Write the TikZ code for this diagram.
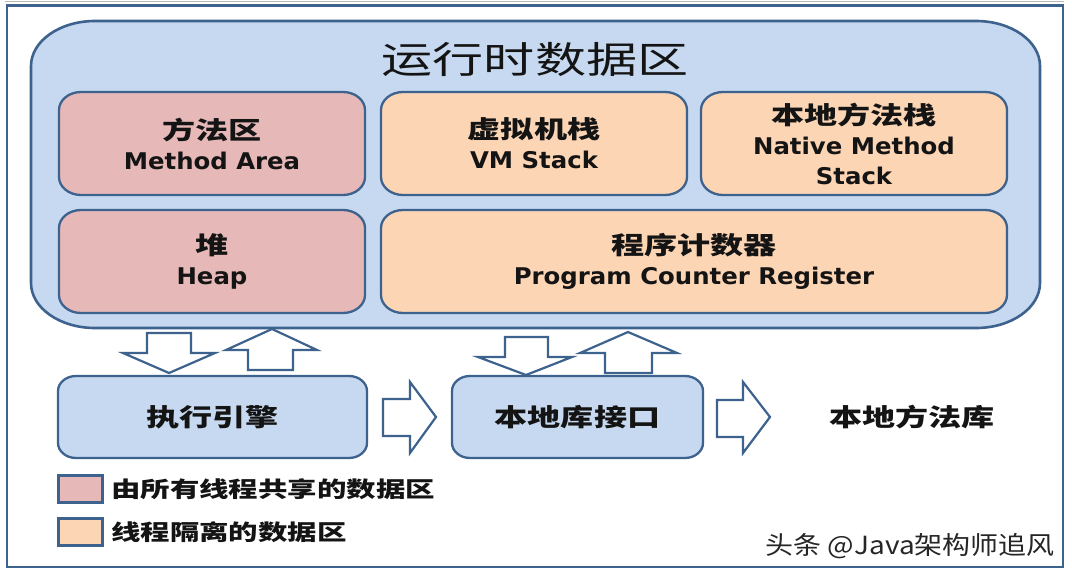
\documentclass[tikz,border=0pt]{standalone}
\usepackage{fontspec}
\newfontfamily\cjk{Noto Sans CJK SC}[FakeStretch=1.35]
\newfontfamily\cjkt{Noto Sans CJK SC}[FakeStretch=1.38]
\newfontfamily\cjkw{Noto Sans CJK SC}[FakeStretch=1.12]
\newfontfamily\en{DejaVu Sans}[FakeStretch=1.06]
\definecolor{framec}{RGB}{62,98,142}
\definecolor{rtfill}{RGB}{198,217,240}
\definecolor{pinkf}{RGB}{230,185,184}
\definecolor{peachf}{RGB}{252,213,181}
\definecolor{ink}{RGB}{20,20,20}
\newcommand\zh[1]{{\fontsize{24.5}{30}\selectfont\cjk\bfseries #1}}
\newcommand\lat[1]{{\fontsize{23}{30}\selectfont\en\bfseries #1}}
\newcommand\ebox[9]{%
  \pgfmathsetmacro\eax{#2+#6}%
  \pgfmathsetmacro\ebx{#4-#6}%
  \pgfmathsetmacro\ecx{#2+0.4477*#6}%
  \pgfmathsetmacro\edx{#4-0.4477*#6}%
  \pgfmathsetmacro\eay{#3+#7}%
  \pgfmathsetmacro\eby{#5-#7}%
  \pgfmathsetmacro\ecy{#3+0.4477*#7}%
  \pgfmathsetmacro\edy{#5-0.4477*#7}%
  \pgfmathsetmacro\emx{(#2+#4)/2}%
  \pgfmathsetmacro\emy{(#3+#5)/2}%
  \path[#8] (\eax,#3) -- (\ebx,#3) .. controls (\edx,#3) and (#4,\ecy) .. (#4,\eay) -- (#4,\eby) .. controls (#4,\edy) and (\edx,#5) .. (\ebx,#5) -- (\eax,#5) .. controls (\ecx,#5) and (#2,\edy) .. (#2,\eby) -- (#2,\eay) .. controls (#2,\ecy) and (\ecx,#3) .. (\eax,#3) -- cycle;
  \node[boxtext] (#1) at (\emx,\emy) {#9};
}
\begin{document}
\begin{tikzpicture}[x=1pt,y=-1pt,
  inbox/.style={draw=framec,line width=2.3pt},
  bigbox/.style={draw=framec,fill=rtfill,line width=2.6pt},
  boxtext/.style={align=center,inner sep=0pt,text=ink,font=\fontsize{23}{30}\selectfont},
  blockarrow/.style={draw=framec,fill=white,line width=2.2pt,line join=miter},
  legsq/.style={draw=framec,line width=2.6pt,inner sep=0pt,minimum width=44,minimum height=27},
  legtext/.style={anchor=west,inner sep=0pt,text=ink,font=\fontsize{21.8}{24}\selectfont\cjk\bfseries}]
\useasboundingbox (0,0) rectangle (1072,573);
\fill[white] (0,0) rectangle (1072,573);
% outer frame
\draw[gray!55,line width=0.8pt] (5,1.6) -- (1064,1.6);
\draw[framec,line width=2.8pt] (7,5.5) rectangle (1063,567);
% runtime data area
\ebox{rt}{31}{21}{1040}{328}{64}{45}{bigbox}{}
\node[inner sep=0pt,text=ink,font=\fontsize{37}{40}\selectfont\cjkt] (title) at (535,59) {运行时数据区};
% inner areas
\ebox{ma}{59}{92}{365}{195}{22}{18}{inbox,fill=pinkf}{\zh{方法区}\\\lat{Method Area}}
\ebox{vms}{381}{92}{687}{195}{22}{18}{inbox,fill=peachf}{\zh{虚拟机栈}\\\lat{VM Stack}}
\ebox{nms}{701}{92}{1007}{195}{22}{18}{inbox,fill=peachf}{\zh{本地方法栈}\\\lat{Native Method}\\\lat{Stack}}
\ebox{heap}{59}{210}{365}{313}{22}{18}{inbox,fill=pinkf}{\zh{堆}\\\lat{Heap}}
\ebox{pc}{381}{210}{1007}{313}{22}{18}{inbox,fill=peachf}{\zh{程序计数器}\\\lat{Program Counter Register}}
% vertical block arrows
\draw[blockarrow] (147,333) -- (191,333) -- (191,353) -- (215,353) -- (169,373) -- (123,353) -- (147,353) -- cycle;
\draw[blockarrow] (248,370) -- (293,370) -- (293,350) -- (317,350) -- (272,329) -- (226,350) -- (248,350) -- cycle;
\draw[blockarrow] (505,337) -- (548,337) -- (548,357) -- (572,357) -- (526,375) -- (478,357) -- (505,357) -- cycle;
\draw[blockarrow] (605,373) -- (652,373) -- (652,353) -- (677,353) -- (628,332) -- (580,353) -- (605,353) -- cycle;
% bottom boxes
\ebox{exec}{58}{376}{367}{458}{18}{15}{inbox,fill=rtfill}{\zh{执行引擎}}
\ebox{jni}{452}{376}{703}{458}{18}{15}{inbox,fill=rtfill}{\zh{本地库接口}}
\node[boxtext] (lib) at (912,417) {\zh{本地方法库}};
% horizontal block arrows
\draw[blockarrow] (383,399) -- (410,399) -- (410,382) -- (436,417) -- (410,453) -- (410,436) -- (383,436) -- cycle;
\draw[blockarrow] (717,400) -- (743,400) -- (743,382) -- (770,417) -- (743,453) -- (743,437) -- (717,437) -- cycle;
% legend
\node[legsq,fill=pinkf] (lsq1) at (80.5,489) {};
\node[legtext] (lt1) at (111,489) {由所有线程共享的数据区};
\node[legsq,fill=peachf] (lsq2) at (80.5,532) {};
\node[legtext] (lt2) at (111,532) {线程隔离的数据区};
% watermark
\node[anchor=east,inner sep=0pt,text=black!85,font=\fontsize{25}{28}\selectfont\cjkw] (wm) at (1055,546) {头条 @Java架构师追风};
\end{tikzpicture}
\end{document}
